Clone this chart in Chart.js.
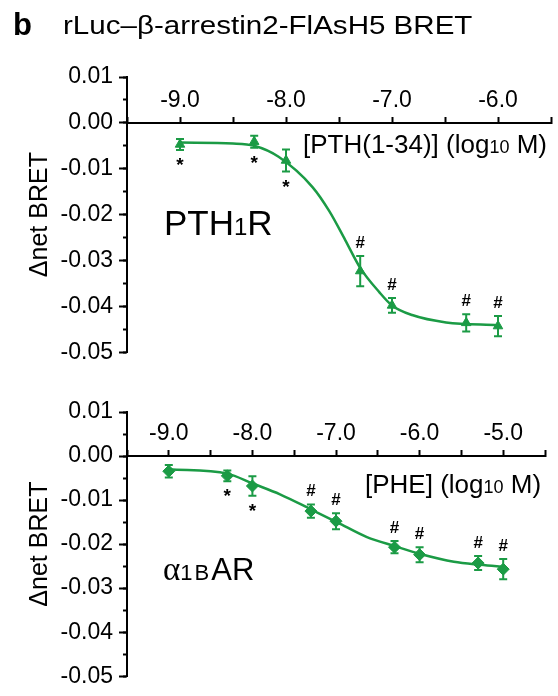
<!DOCTYPE html>
<html>
<head>
<meta charset="utf-8">
<script src="https://cdn.jsdelivr.net/npm/chart.js@4"></script>
<style>
body { margin: 0; background: #fff; }
#wrap { position: relative; width: 558px; height: 696px; overflow: hidden; font-family: 'Liberation Sans', Arial, sans-serif; color: #000; }
canvas { position: absolute; left: 0; }
.t { position: absolute; white-space: nowrap; }
</style>
</head>
<body>
<div id="wrap">
  <canvas id="pth" width="558" height="372" style="top:0"></canvas>
  <canvas id="phe" width="558" height="324" style="top:372px"></canvas>

  <div class="t" style="left:13px;top:9px;font-size:31px;line-height:31px;font-weight:bold">b</div>
  <div class="t" style="left:63px;top:12px;font-size:26.5px;line-height:26.5px;transform:scaleX(1.115);transform-origin:0 0">rLuc–β-arrestin2-FlAsH5 BRET</div>

  <div class="t" style="left:164px;top:205px;font-size:35px;line-height:35px">PTH<span style="font-size:24px">1</span>R</div>
  <div class="t" style="left:303px;top:131px;font-size:26px;line-height:26px">[PTH(1-34)] (log<span style="font-size:18px">10</span> M)</div>

  <div class="t" style="left:163px;top:554px;font-size:31px;line-height:31px"><span style="font-family:'Liberation Serif',serif;font-size:33px">α</span><span style="font-size:22px;letter-spacing:2px">1B</span>AR</div>
  <div class="t" style="left:365px;top:471px;font-size:26px;line-height:26px">[PHE] (log<span style="font-size:18px">10</span> M)</div>
</div>

<script>
// PTH(1-34) panel
const pthX = [-9.0, -8.3, -8.0, -7.3, -7.0, -6.3, -6.0];
const pthY = [-0.0047, -0.0041, -0.0082, -0.0323, -0.0398, -0.0436, -0.0443];
const pthErr = [0.0012, 0.0013, 0.0024, 0.0033, 0.0016, 0.0019, 0.0022];
const pthSig = ['*', '*', '*', '#', '#', '#', '#'];
const pthFitX = [-9.0, -8.5, -8.3, -8.07, -7.75, -7.59, -7.44, -7.3, -7.12, -7.0, -6.81, -6.49, -6.0];
const pthFitY = [-0.0043, -0.0045, -0.0050, -0.0074, -0.014, -0.0193, -0.0256, -0.0316, -0.0369, -0.0398, -0.0419, -0.0435, -0.0441];

// PHE panel
const pheX = [-9.0, -8.3, -8.0, -7.3, -7.0, -6.3, -6.0, -5.3, -5.0];
const pheY = [-0.00345, -0.0045, -0.0068, -0.0125, -0.0148, -0.0207, -0.0224, -0.0243, -0.0257];
const pheErr = [0.0014, 0.0012, 0.0022, 0.0015, 0.0018, 0.0014, 0.0017, 0.0016, 0.0023];
const pheSig = ['', '*', '*', '#', '#', '#', '#', '#', '#'];
const pheFitX = [-9.0, -8.3, -7.99, -7.67, -7.29, -6.98, -6.63, -6.29, -5.98, -5.59, -5.27, -4.98];
const pheFitY = [-0.0030, -0.0040, -0.0063, -0.0087, -0.0122, -0.0151, -0.0184, -0.0205, -0.0223, -0.0240, -0.0247, -0.0252];

const green = '#1b9b45';
const fam = "'Liberation Sans', Arial, sans-serif";
Chart.defaults.font.family = fam;
Chart.defaults.color = '#000';

const fmtY = v => { const r = Math.round(v * 100) / 100; return (r === 0 ? 0 : r).toFixed(2); };
const fmtX = v => Math.abs(v - Math.round(v)) < 1e-6 ? Math.round(v).toFixed(1) : '';

// error bars + significance marks, placed with the chart's scales
const errorBars = {
  id: 'errorBars',
  beforeDatasetsDraw(chart, args, o) {
    const ctx = chart.ctx, xs = chart.scales.x, ys = chart.scales.y;
    ctx.save();
    ctx.strokeStyle = green;
    ctx.lineWidth = 2;
    ctx.textAlign = 'center';
    ctx.textBaseline = 'middle';
    o.x.forEach((v, i) => {
      const px = xs.getPixelForValue(v);
      const hi = ys.getPixelForValue(o.y[i] + o.err[i]);
      const lo = ys.getPixelForValue(o.y[i] - o.err[i]);
      ctx.beginPath();
      ctx.moveTo(px, hi); ctx.lineTo(px, lo);
      ctx.moveTo(px - 4, hi); ctx.lineTo(px + 4, hi);
      ctx.moveTo(px - 4, lo); ctx.lineTo(px + 4, lo);
      ctx.stroke();
      const s = o.sig[i];
      if (s === '*') {
        ctx.fillStyle = '#000';
        ctx.font = 'bold 19px ' + fam;
        ctx.fillText(s, px, lo + 16);
      } else if (s) {
        ctx.fillStyle = '#000';
        ctx.font = 'bold 17px ' + fam;
        ctx.fillText(s, px, hi - 13);
      }
    });
    ctx.restore();
  }
};

function panel(id, c) {
  return new Chart(document.getElementById(id), {
    type: 'scatter',
    data: {
      datasets: [
        {
          data: c.fitX.map((x, i) => ({ x, y: c.fitY[i] })),
          showLine: true,
          borderColor: green,
          borderWidth: 2.5,
          pointRadius: 0,
          cubicInterpolationMode: 'monotone'
        },
        {
          data: c.x.map((x, i) => ({ x, y: c.y[i] })),
          showLine: false,
          pointStyle: c.marker,
          pointRadius: c.r,
          backgroundColor: green,
          borderColor: green,
          borderWidth: 1
        }
      ]
    },
    options: {
      responsive: false,
      animation: false,
      clip: false,
      layout: { padding: c.pad },
      plugins: {
        legend: { display: false },
        tooltip: { enabled: false },
        errorBars: { x: c.x, y: c.y, err: c.err, sig: c.sig }
      },
      scales: {
        x: {
          type: 'linear',
          min: c.xMin, max: c.xMax,
          position: { y: 0 },
          border: { color: '#000', width: 2 },
          grid: { drawOnChartArea: false, tickLength: -7, tickWidth: 2, tickColor: '#000' },
          ticks: { stepSize: 0.5, autoSkip: false, maxRotation: 0, padding: -29, font: { size: 23 }, callback: fmtX }
        },
        y: {
          min: -0.05, max: 0.01,
          position: 'left',
          afterFit: s => { s.width = 106; },
          border: { color: '#000', width: 2 },
          grid: { drawOnChartArea: false, tickLength: 8, tickWidth: 2, tickColor: '#000' },
          ticks: { stepSize: 0.01, padding: 6, font: { size: 23 }, callback: fmtY },
          title: { display: true, text: 'Δnet BRET', font: { size: 25 }, padding: { top: 4, bottom: 4 } }
        },
        yMinor: {
          min: -0.05, max: 0.01,
          position: { x: c.xMin },
          border: { display: false },
          grid: { drawOnChartArea: false, tickLength: 4, tickWidth: 2, tickColor: '#000' },
          ticks: { stepSize: 0.005, display: false }
        }
      }
    },
    plugins: [errorBars]
  });
}

panel('pth', {
  x: pthX, y: pthY, err: pthErr, sig: pthSig, fitX: pthFitX, fitY: pthFitY,
  marker: 'triangle', r: 5.5, xMin: -9.5, xMax: -5.5,
  pad: { left: 21, top: 77, right: 7, bottom: 12 }
});

panel('phe', {
  x: pheX, y: pheY, err: pheErr, sig: pheSig, fitX: pheFitX, fitY: pheFitY,
  marker: 'rectRot', r: 6, xMin: -9.5, xMax: -4.5,
  pad: { left: 21, top: 40, right: 13, bottom: 6 }
});
</script>
</body>
</html>
